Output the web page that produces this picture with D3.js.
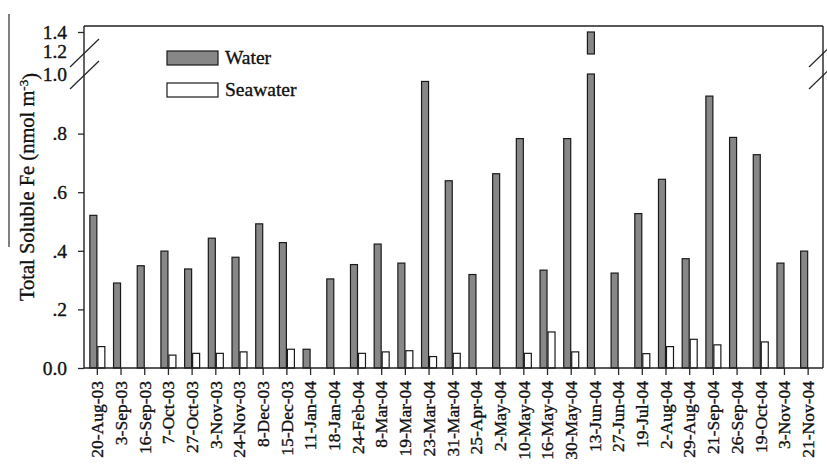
<!DOCTYPE html>
<html>
<head>
<meta charset="utf-8">
<script src="https://cdnjs.cloudflare.com/ajax/libs/d3/7.8.5/d3.min.js"></script>
<style>
  body { margin: 0; background: #fff; }
  svg { display: block; }
  text { font-family: "Liberation Serif", "Times New Roman", serif; fill: #111; stroke: #111; stroke-width: 0.35px; }
</style>
</head>
<body>
<svg width="827" height="468"></svg>
<script>
// sampling dates
var dates = ['20-Aug-03', '3-Sep-03', '16-Sep-03', '7-Oct-03', '27-Oct-03', '3-Nov-03', '24-Nov-03',
  '8-Dec-03', '15-Dec-03', '11-Jan-04', '18-Jan-04', '24-Feb-04', '8-Mar-04', '19-Mar-04', '23-Mar-04',
  '31-Mar-04', '25-Apr-04', '2-May-04', '10-May-04', '16-May-04', '30-May-04', '13-Jun-04', '27-Jun-04',
  '19-Jul-04', '2-Aug-04', '29-Aug-04', '21-Sep-04', '26-Sep-04', '19-Oct-04', '3-Nov-04', '21-Nov-04'];

// total soluble Fe, nmol m-3 (null = not measured)
var water = [0.521, 0.290, 0.349, 0.399, 0.338, 0.443, 0.378, 0.492, 0.428, 0.064, 0.304, 0.353, 0.423,
  0.358, 0.978, 0.639, 0.319, 0.663, 0.783, 0.334, 0.783, 1.40, 0.324, 0.527, 0.644, 0.373, 0.928,
  0.787, 0.728, 0.358, 0.399];
var seawater = [0.073, null, null, 0.044, 0.050, 0.050, 0.055, null, 0.064, null, null, 0.050, 0.055,
  0.059, 0.039, 0.050, null, null, 0.050, 0.123, 0.055, null, null, 0.049, 0.073, 0.098, 0.079,
  null, 0.089, null, null];

var lowTicks = [0, 0.2, 0.4, 0.6, 0.8];
var seriesNames = ['Water', 'Seawater'];
var seriesFill = ['#878787', '#ffffff'];

var svg = d3.select('svg');

var xScale = d3.scaleBand().domain(dates).range([85.5, 820]);
// broken y axis: lower part 0..1.0, upper part 1.2..1.4
var yLow = d3.scaleLinear().domain([0, 1.0]).range([368, 75]);
var yHigh = d3.scaleLinear().domain([1.2, 1.4]).range([54, 32]);
var breakAt = 1.0;

var fx0 = 84;
var fx1 = 823;
var fy1 = yLow(0);
var fyUp = yHigh(1.4) - 6;   // frame edge sits 6px above the 1.4 tick
if (!isFinite(fyUp)) fyUp = 26;
var ink = '#2a2a2a';

// artifact rule at far left of the scanned figure
svg.append('line').attr('x1', 9).attr('x2', 9).attr('y1', 14).attr('y2', 247)
  .attr('stroke', ink).attr('stroke-width', 1.2);

// y axis ticks
function fmt(d) { return d === 0 ? '0.0' : d3.format('.1f')(d).replace(/^0/, ''); }

function styleAxis(g) {
  g.select('.domain').remove();
  g.selectAll('.tick line').attr('stroke', ink).attr('stroke-width', 1.3);
  g.selectAll('.tick text').attr('font-size', '19.5px')
    .attr('font-family', '"Liberation Serif", serif').attr('fill', '#111');
}

svg.append('g').attr('transform', 'translate(' + fx0 + ',0)')
  .call(d3.axisLeft(yLow).tickValues(lowTicks).tickFormat(fmt).tickSizeInner(6).tickSizeOuter(0).tickPadding(11))
  .call(styleAxis);
svg.append('g').attr('transform', 'translate(' + fx0 + ',0)')
  .call(d3.axisLeft(yHigh).tickValues([1.4]).tickFormat(fmt).tickSizeInner(6).tickSizeOuter(0).tickPadding(11))
  .call(styleAxis);
// labels next to the break, no tick marks
svg.append('g').attr('transform', 'translate(' + fx0 + ',-1)')
  .call(d3.axisLeft(yLow).tickValues([1.0]).tickFormat(fmt).tickSize(0).tickPadding(17))
  .call(styleAxis);
svg.append('g').attr('transform', 'translate(' + fx0 + ',-3)')
  .call(d3.axisLeft(yHigh).tickValues([1.2]).tickFormat(fmt).tickSize(0).tickPadding(17))
  .call(styleAxis);

// x axis
var xAxis = svg.append('g').attr('transform', 'translate(0,' + fy1 + ')')
  .call(d3.axisBottom(xScale).tickSizeInner(7).tickSizeOuter(0).tickPadding(4));
xAxis.select('.domain').remove();
xAxis.selectAll('.tick line').attr('stroke', ink).attr('stroke-width', 1.3);
xAxis.selectAll('.tick text')
  .attr('font-size', '17.5px').attr('font-family', '"Liberation Serif", serif').attr('fill', '#111')
  .attr('text-anchor', 'end')
  .attr('transform', 'rotate(-90)')
  .attr('x', -13).attr('y', 0).attr('dy', '0.33em');

// bars
var bw = 7;
var offsets = [-7.5, 0.5];
[water, seawater].forEach(function (values, s) {
  var rows = dates.map(function (d, i) { return { date: d, v: values[i] }; })
    .filter(function (r) { return r.v !== null; });
  var g = svg.append('g');
  rows.forEach(function (r) {
    var cx = xScale(r.date) + xScale.bandwidth() / 2 + offsets[s];
    if (r.v <= breakAt) {
      g.append('rect').attr('x', cx).attr('width', bw)
        .attr('y', yLow(r.v)).attr('height', yLow(0) - yLow(r.v));
    } else {
      g.append('rect').attr('x', cx).attr('width', bw)
        .attr('y', yLow(breakAt) - 1).attr('height', yLow(0) - yLow(breakAt) + 1);
      g.append('rect').attr('x', cx).attr('width', bw)
        .attr('y', yHigh(r.v)).attr('height', yHigh(1.2) - yHigh(r.v));
    }
  });
  g.selectAll('rect').attr('fill', seriesFill[s]).attr('stroke', '#1a1a1a').attr('stroke-width', 1.2);
});

// break marks on both sides
[fx0, fx1].forEach(function (bx) {
  [0, 22].forEach(function (off) {
    svg.append('line')
      .attr('x1', bx - 14).attr('y1', 67 + off)
      .attr('x2', bx + 15).attr('y2', 39 + off)
      .attr('stroke', ink).attr('stroke-width', 1.3);
  });
});

// legend
var legend = svg.append('g');
seriesNames.forEach(function (name, i) {
  var ly = 51 + i * 32;
  legend.append('rect').attr('x', 167).attr('y', ly).attr('width', 51).attr('height', 14)
    .attr('fill', seriesFill[i]).attr('stroke', '#1a1a1a').attr('stroke-width', 1.2);
  legend.append('text').attr('x', 225).attr('y', ly + 13)
    .attr('font-size', '19.5px').text(name);
});

// y title
var title = svg.append('text')
  .attr('transform', 'translate(34,187) rotate(-90)')
  .attr('text-anchor', 'middle')
  .attr('font-size', '20.5px');
title.append('tspan').text('Total Soluble Fe (nmol m');
title.append('tspan').attr('dy', '-0.45em').attr('font-size', '13px').text('-3');
title.append('tspan').attr('dy', '0.45em').text(')');

// frame: left axis, upper edge, right edge, baseline
var edges = [
  [fx0, fy1, fx0, fyUp],
  [fx0, fyUp, fx1, fyUp],
  [fx1, fyUp, fx1, fy1],
  [fx0, fy1, fx1, fy1]
];
svg.append('g').selectAll('line')
  .data(edges)
  .enter()
  .append('line')
  .attr('x1', d => d[0]).attr('y1', d => d[1])
  .attr('x2', d => d[2]).attr('y2', d => d[3])
  .attr('stroke', '#222').attr('stroke-width', 1.4);
</script>
</body>
</html>
